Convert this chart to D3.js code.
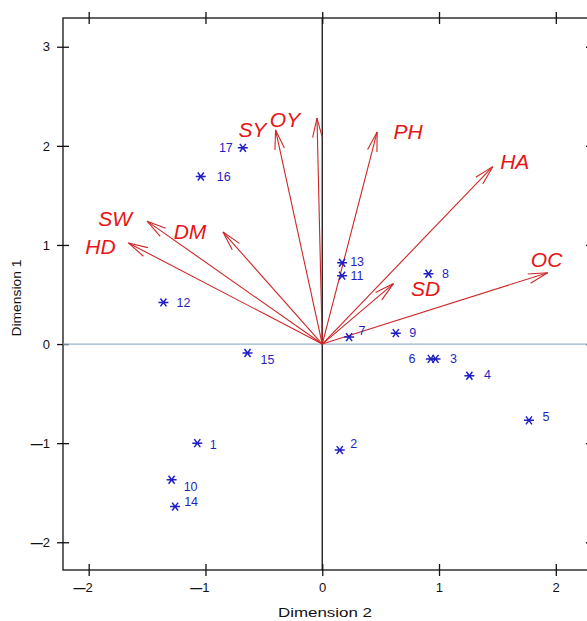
<!DOCTYPE html>
<html>
<head>
<meta charset="utf-8">
<script src="https://cdn.jsdelivr.net/npm/d3@7"></script>
<style>
  body { margin: 0; background: #fff; }
  svg text { font-family: "Liberation Sans", Arial, sans-serif; }
</style>
</head>
<body>
<div id="chart"></div>
<script>
// observations (scores)
const obsIds = [1, 2, 3, 4, 5, 6, 7, 8, 9, 10, 11, 12, 13, 14, 15, 16, 17];
const obsDim2 = [-1.07, 0.15, 0.97, 1.26, 1.77, 0.93, 0.23, 0.91, 0.63, -1.29, 0.17, -1.36, 0.17, -1.26, -0.64, -1.04, -0.68];
const obsDim1 = [-1.00, -1.07, -0.15, -0.32, -0.77, -0.15, 0.07, 0.71, 0.11, -1.37, 0.69, 0.42, 0.82, -1.64, -0.09, 1.69, 1.98];

// variables (vectors)
const varNames = ["OY", "SY", "PH", "HA", "OC", "SD", "DM", "SW", "HD"];
const varDim2 = [-0.045, -0.40, 0.47, 1.46, 1.93, 0.61, -0.85, -1.50, -1.66];
const varDim1 = [2.28, 2.16, 2.14, 1.79, 0.72, 0.61, 1.13, 1.24, 1.02];

const xTicks = [-2, -1, 0, 1, 2];
const yTicks = [-2, -1, 0, 1, 2, 3];

// label placement (pixel offsets from the mark)
const obsLabelOff = {1:[16,2],2:[14,-6],3:[18,0],4:[18,-1],5:[17,-3],6:[-19,0],7:[13,-6],8:[17,0],9:[17,0],
  10:[19,7],11:[15,0],12:[20,1],13:[15,-1],14:[16,-5],15:[20,7],16:[23,0],17:[-17,0]};
const varLabelOff = {OY:[-32,1],SY:[-23,0],PH:[31,0],HA:[22,-5],OC:[-1,-13],SD:[32,5],DM:[-33,-1],SW:[-32,-3],HD:[-28,4]};

const W = 587, H = 621;
const mLeft = 63, mTop = 18, mRight = 592, mBottom = 570;

const svg = d3.select("#chart").append("svg")
  .attr("width", W).attr("height", H);

const x = d3.scaleLinear().domain([-2.22, 2.31]).range([mLeft, mRight]);
const y = d3.scaleLinear().domain([-2.28, 3.29]).range([mBottom, mTop]);

// frame
svg.append("rect")
  .attr("x", mLeft).attr("y", mTop)
  .attr("width", mRight - mLeft).attr("height", mBottom - mTop)
  .attr("fill", "none").attr("stroke", "#111").attr("stroke-width", 1.3);

// axes with ticks crossing the frame
function crossTicks(g, dir) {
  g.select(".domain").remove();
  g.selectAll(".tick line").attr("stroke", "#111").attr("stroke-width", 1.3);
  g.selectAll(".tick").append("line")
    .attr("stroke", "#111").attr("stroke-width", 1.3)
    .attr(dir[0], 0).attr(dir[1], dir[2]);
}

// tick labels: long heavy minus like the original
function styleLabels(g) {
  g.selectAll(".tick text").each(function(d) {
    const t = d3.select(this).text("")
      .attr("font-size", 13).attr("fill", "#111")
      .attr("font-family", "Liberation Sans, Arial, sans-serif");
    if (d < 0) t.append("tspan").attr("font-weight", "bold").attr("font-size", 12).text("\u2014");
    t.append("tspan").text(Math.abs(d));
  });
}

svg.append("g").attr("transform", `translate(0,${mBottom})`)
  .call(d3.axisBottom(x).tickValues(xTicks).tickSize(6).tickPadding(7))
  .call(g => crossTicks(g, ["y1", "y2", -6]))
  .call(styleLabels)
  .call(g => g.selectAll(".tick text").attr("text-anchor", "end").attr("dx", 3.5));

svg.append("g").attr("transform", `translate(0,${mTop})`)
  .call(d3.axisTop(x).tickValues(xTicks).tickSize(6).tickFormat(""))
  .call(g => crossTicks(g, ["y1", "y2", 6]));

svg.append("g").attr("transform", `translate(${mLeft},0)`)
  .call(d3.axisLeft(y).tickValues(yTicks).tickSize(6).tickPadding(7))
  .call(g => crossTicks(g, ["x1", "x2", 6]))
  .call(styleLabels);

svg.append("g").attr("transform", `translate(${mRight},0)`)
  .call(d3.axisRight(y).tickValues(yTicks).tickSize(6).tickFormat(""))
  .call(g => crossTicks(g, ["x1", "x2", -6]));

// reference lines through origin
svg.append("line")
  .attr("x1", mLeft).attr("x2", mRight).attr("y1", y(0)).attr("y2", y(0))
  .attr("stroke", "#9ab4cc").attr("stroke-width", 1.3);
svg.append("line")
  .attr("x1", x(0)).attr("x2", x(0)).attr("y1", mTop).attr("y2", mBottom)
  .attr("stroke", "#111").attr("stroke-width", 1.3);

// axis titles
svg.append("text")
  .attr("x", 325).attr("y", 617)
  .attr("text-anchor", "middle").attr("font-size", 12).attr("fill", "#111")
  .attr("textLength", 94).attr("lengthAdjust", "spacingAndGlyphs")
  .text("Dimension 2");
svg.append("text")
  .attr("transform", "translate(21,298) rotate(-90)")
  .attr("text-anchor", "middle").attr("font-size", 12).attr("fill", "#111")
  .attr("textLength", 77).attr("lengthAdjust", "spacingAndGlyphs")
  .text("Dimension 1");

// vectors
const vars = varNames.map((n, i) => ({name: n, dx: varDim2[i], dy: varDim1[i]}));
const red = "#cc2626";
const vg = svg.append("g").selectAll("g").data(vars).enter().append("g");

vg.append("line")
  .attr("x1", x(0)).attr("y1", y(0))
  .attr("x2", d => x(d.dx)).attr("y2", d => y(d.dy))
  .attr("stroke", red).attr("stroke-width", 1.1);

// open arrow heads
vg.append("path")
  .attr("fill", "none").attr("stroke", red).attr("stroke-width", 1.1)
  .attr("d", d => {
    const tx = x(d.dx), ty = y(d.dy);
    const a = Math.atan2(ty - y(0), tx - x(0));
    const len = 20, spread = 14 * Math.PI / 180;
    const p1 = [tx - len * Math.cos(a - spread), ty - len * Math.sin(a - spread)];
    const p2 = [tx - len * Math.cos(a + spread), ty - len * Math.sin(a + spread)];
    return `M${p1[0]},${p1[1]}L${tx},${ty}L${p2[0]},${p2[1]}`;
  });

vg.append("text")
  .attr("x", d => x(d.dx) + varLabelOff[d.name][0])
  .attr("y", d => y(d.dy) + varLabelOff[d.name][1])
  .attr("text-anchor", "middle").attr("dominant-baseline", "central")
  .attr("font-size", 21).attr("font-style", "italic").attr("fill", "#e81414")
  .text(d => d.name);

// observations
const obs = obsIds.map((id, i) => ({id: id, dx: obsDim2[i], dy: obsDim1[i]}));
const blue = "#1f1fc4";
const og = svg.append("g").selectAll("g").data(obs).enter().append("g")
  .attr("transform", d => `translate(${x(d.dx)},${y(d.dy)})`);

og.append("path")
  .attr("fill", "none").attr("stroke", blue).attr("stroke-width", 1.5)
  .attr("d", () => {
    const r = 5, c = r * Math.cos(Math.PI / 3.4), s = r * Math.sin(Math.PI / 3.4);
    return `M${-r},0L${r},0M${-c},${-s}L${c},${s}M${-c},${s}L${c},${-s}`;
  });

og.append("text")
  .attr("x", d => obsLabelOff[d.id][0])
  .attr("y", d => obsLabelOff[d.id][1])
  .attr("text-anchor", "middle").attr("dominant-baseline", "central")
  .attr("font-size", 12.5).attr("fill", blue)
  .text(d => d.id);
</script>
</body>
</html>
